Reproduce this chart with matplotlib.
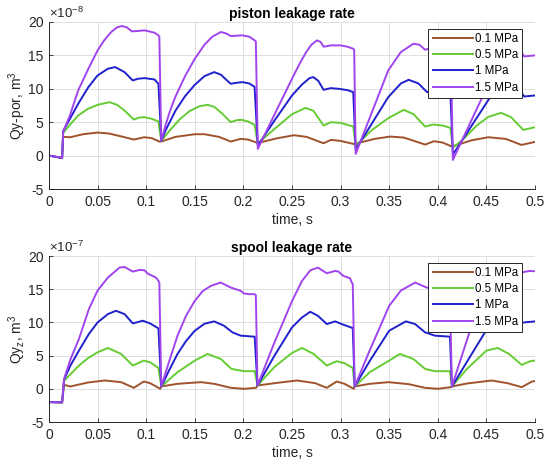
import matplotlib
matplotlib.use("Agg")
import matplotlib.pyplot as plt

plt.rcParams['font.family'] = ['Liberation Sans', 'DejaVu Sans']
plt.rcParams['mathtext.fontset'] = 'custom'
plt.rcParams['mathtext.rm'] = 'Liberation Sans'
plt.rcParams['mathtext.it'] = 'Liberation Sans'
plt.rcParams['axes.unicode_minus'] = False

# ---------------- data ----------------
series_labels = ['0.1 MPa', '0.5 MPa', '1 MPa', '1.5 MPa']
series_colors = ['#A0522D', '#66CC33', '#2020CC', '#A045EE']
x_ticks = [0, 0.05, 0.1, 0.15, 0.2, 0.25, 0.3, 0.35, 0.4, 0.45, 0.5]
x_tick_labels = ['0', '0.05', '0.1', '0.15', '0.2', '0.25', '0.3', '0.35', '0.4', '0.45', '0.5']
y_ticks = [-5, 0, 5, 10, 15, 20]

# piston leakage rate (x 1e-8 m^3)
pis_t_01 = [0, 0.006, 0.0135, 0.0146, 0.022, 0.035, 0.05, 0.062, 0.075, 0.0873, 0.098, 0.106, 0.1135,
            0.1155, 0.13, 0.15, 0.16, 0.175, 0.187, 0.197, 0.205, 0.2125,
            0.2148, 0.235, 0.252, 0.265, 0.2825, 0.29, 0.3, 0.313,
            0.3155, 0.335, 0.351, 0.365, 0.387, 0.396, 0.405, 0.413,
            0.4155, 0.435, 0.452, 0.47, 0.486, 0.5]
pis_y_01 = [0, -0.15, -0.35, 2.8, 2.75, 3.2, 3.45, 3.3, 2.85, 2.4, 2.75, 2.6, 2.1,
            2.1, 2.8, 3.2, 3.2, 2.8, 2.1, 2.5, 2.4, 2.0,
            1.9, 2.6, 3.05, 2.8, 1.85, 2.35, 2.2, 1.75,
            1.8, 2.5, 2.85, 2.7, 1.65, 2.15, 1.95, 1.45,
            1.4, 2.3, 2.75, 2.5, 1.6, 2.05]

pis_t_05 = [0, 0.006, 0.0135, 0.0146, 0.022, 0.030, 0.04, 0.05, 0.0623, 0.07, 0.0777, 0.0873, 0.093, 0.0983, 0.106, 0.1126,
            0.1155, 0.125, 0.135, 0.145, 0.155, 0.163, 0.17, 0.178, 0.187, 0.193, 0.198, 0.205, 0.2115,
            0.2148, 0.232, 0.25, 0.264, 0.272, 0.2825, 0.29, 0.3, 0.313,
            0.3155, 0.332, 0.349, 0.365, 0.375, 0.387, 0.395, 0.405, 0.413,
            0.4155, 0.4247, 0.44, 0.452, 0.465, 0.475, 0.488, 0.5]
pis_y_05 = [0, -0.15, -0.35, 3.4, 4.7, 6.0, 7.0, 7.6, 8.0, 7.6, 6.75, 5.4, 5.7, 5.75, 5.5, 5.1,
            2.2, 3.9, 5.5, 6.7, 7.4, 7.6, 7.3, 6.3, 5.0, 5.3, 5.35, 5.1, 4.6,
            1.8, 4.0, 6.2, 7.15, 6.7, 4.5, 5.0, 4.9, 4.35,
            1.5, 3.8, 5.6, 6.85, 6.2, 4.35, 4.65, 4.5, 4.15,
            1.2, 2.25, 4.5, 5.8, 6.4, 5.8, 3.85, 4.25]

pis_t_10 = [0, 0.006, 0.0135, 0.0146, 0.0215, 0.030, 0.0405, 0.05, 0.0606, 0.0681, 0.0777, 0.0862, 0.0915, 0.0983, 0.1085, 0.1126,
            0.1155, 0.12, 0.13, 0.14, 0.15, 0.16, 0.17, 0.177, 0.182, 0.187, 0.193, 0.199, 0.206, 0.2115,
            0.2148, 0.232, 0.25, 0.26, 0.268, 0.272, 0.277, 0.2825, 0.29, 0.298, 0.307, 0.313,
            0.3155, 0.349, 0.362, 0.370, 0.38, 0.389, 0.397, 0.405, 0.413,
            0.4155, 0.4555, 0.47, 0.48, 0.489, 0.5]
pis_y_10 = [0, -0.15, -0.35, 3.7, 5.5, 7.75, 10.25, 12.0, 13.0, 13.25, 12.5, 11.25, 11.5, 11.6, 11.4, 10.75,
            2.2, 3.8, 6.7, 8.9, 10.6, 11.9, 12.5, 12.1, 11.4, 10.75, 10.9, 11.0, 10.8, 10.3,
            1.5, 5.25, 9.0, 10.6, 11.6, 11.75, 11.2, 9.85, 10.1, 10.0, 9.8, 9.5,
            0.9, 8.75, 10.8, 11.35, 10.8, 9.5, 9.7, 9.6, 9.25,
            0.15, 9.1, 11.2, 10.6, 8.85, 9.0]

pis_t_15 = [0, 0.006, 0.0135, 0.0146, 0.0215, 0.030, 0.0405, 0.05, 0.057, 0.064, 0.07, 0.075, 0.08, 0.0853, 0.091, 0.0983, 0.1085, 0.1126, 0.1135,
            0.1155, 0.12, 0.125, 0.13, 0.14, 0.15, 0.16, 0.168, 0.1767, 0.182, 0.187, 0.193, 0.199, 0.206, 0.2115, 0.2128,
            0.2148, 0.232, 0.25, 0.258, 0.265, 0.27, 0.2757, 0.2795, 0.2825, 0.29, 0.3, 0.307, 0.313, 0.314,
            0.3155, 0.349, 0.362, 0.375, 0.381, 0.387, 0.3945, 0.403, 0.41, 0.4135,
            0.4155, 0.4469, 0.462, 0.475, 0.482, 0.489, 0.5]
pis_y_15 = [0, -0.15, -0.35, 3.6, 6.0, 9.75, 13.0, 15.75, 17.3, 18.5, 19.2, 19.4, 19.2, 18.6, 18.65, 18.75, 18.4, 18.0, 17.8,
            2.2, 4.6, 6.9, 8.8, 11.9, 14.5, 16.6, 17.8, 18.5, 18.3, 17.9, 17.95, 18.0, 17.8, 17.25, 17.1,
            1.0, 6.15, 11.5, 13.8, 15.6, 16.6, 17.25, 17.0, 16.3, 16.5, 16.5, 16.3, 16.0, 15.8,
            0.25, 12.75, 15.5, 16.75, 16.6, 15.85, 16.15, 16.0, 15.6, 15.3,
            -0.65, 9.1, 14.5, 16.5, 16.2, 14.85, 15.0]

# spool leakage rate (x 1e-7 m^3)
spo_t_01 = [0, 0.0135, 0.0155, 0.022, 0.04, 0.0574, 0.0742, 0.0873, 0.0975, 0.104, 0.1145,
            0.1155, 0.1322, 0.1563, 0.17, 0.187, 0.2007, 0.213,
            0.2145, 0.235, 0.2551, 0.2738, 0.2858, 0.296, 0.304, 0.3135,
            0.3145, 0.33, 0.3494, 0.37, 0.3869, 0.4, 0.4135,
            0.4145, 0.43, 0.4554, 0.4716, 0.4863, 0.497, 0.5]
spo_y_01 = [-2.0, -2.05, 0.6, 0.35, 0.95, 1.25, 1.0, 0.15, 1.1, 0.85, 0.0,
            0.35, 0.75, 1.0, 0.75, 0.15, 0.0, 0.15,
            0.5, 0.9, 1.25, 0.85, 0.15, 1.1, 0.75, 0.0,
            0.35, 0.75, 1.0, 0.7, 0.15, 0.0, 0.25,
            0.35, 0.8, 1.25, 0.85, 0.25, 1.1, 1.15]

spo_t_05 = [0, 0.0135, 0.0155, 0.0308, 0.04, 0.05, 0.0606, 0.0742, 0.0862, 0.0975, 0.104, 0.1126,
            0.1155, 0.1322, 0.15, 0.1631, 0.1767, 0.1877, 0.2007, 0.2116,
            0.2145, 0.232, 0.25, 0.2603, 0.2722, 0.2858, 0.296, 0.304, 0.3125,
            0.3145, 0.33, 0.35, 0.361, 0.3747, 0.3869, 0.3971, 0.4125,
            0.4145, 0.43, 0.45, 0.4616, 0.4733, 0.4863, 0.495, 0.5]
spo_y_05 = [-2.0, -2.05, 1.2, 3.5, 4.6, 5.5, 6.15, 5.25, 3.5, 4.25, 4.0, 3.15,
            0.35, 2.5, 4.25, 5.25, 4.5, 3.0, 2.65, 2.65,
            0.5, 3.3, 5.4, 6.15, 5.25, 3.5, 4.15, 3.85, 3.15,
            0.35, 2.5, 4.25, 5.25, 4.5, 3.0, 2.65, 2.65,
            0.35, 3.0, 5.75, 6.15, 5.25, 3.6, 4.15, 4.25]

spo_t_10 = [0, 0.0135, 0.0155, 0.022, 0.0308, 0.041, 0.05, 0.0606, 0.0689, 0.0777, 0.0862, 0.0965, 0.104, 0.1126,
            0.1155, 0.124, 0.1322, 0.141, 0.15, 0.16, 0.1699, 0.18, 0.1887, 0.1973, 0.2116,
            0.2145, 0.232, 0.25, 0.2603, 0.2688, 0.2766, 0.2858, 0.2944, 0.3029, 0.3125,
            0.3145, 0.33, 0.35, 0.3671, 0.3767, 0.3869, 0.3971, 0.4125,
            0.4145, 0.4512, 0.46, 0.4688, 0.4766, 0.4858, 0.4887, 0.5]
spo_y_10 = [-2.0, -2.05, 1.4, 3.5, 5.75, 8.25, 10.0, 11.25, 11.75, 11.25, 9.85, 10.25, 9.85, 9.1,
            0.35, 2.9, 5.25, 7.2, 8.75, 9.8, 10.15, 9.5, 8.5, 8.0, 7.85,
            0.5, 5.0, 9.25, 10.75, 11.6, 11.0, 9.75, 10.15, 9.65, 9.15,
            0.35, 4.2, 8.75, 10.15, 9.75, 8.5, 8.0, 7.85,
            0.35, 9.15, 10.6, 11.6, 11.0, 9.9, 10.0, 10.15]

spo_t_15 = [0, 0.0135, 0.0155, 0.022, 0.0308, 0.041, 0.05, 0.0606, 0.0725, 0.0777, 0.0862, 0.093, 0.0982, 0.1016, 0.110, 0.1126, 0.1135,
            0.1155, 0.124, 0.1322, 0.141, 0.15, 0.158, 0.1665, 0.1767, 0.187, 0.1973, 0.2007, 0.2058, 0.2116, 0.2128,
            0.2145, 0.232, 0.25, 0.2603, 0.2688, 0.2766, 0.2858, 0.2944, 0.2978, 0.3029, 0.3098, 0.3114, 0.3125,
            0.3145, 0.33, 0.35, 0.362, 0.3767, 0.3869, 0.3937, 0.40, 0.407, 0.4125,
            0.4145, 0.434, 0.45, 0.462, 0.4766, 0.4858, 0.4887, 0.4944, 0.5]
spo_y_15 = [-2.0, -2.05, 1.5, 4.4, 7.5, 12.0, 14.8, 16.75, 18.25, 18.35, 17.65, 17.9, 17.85, 17.35, 16.75, 16.25, 16.0,
            0.35, 4.3, 8.0, 11.0, 13.25, 14.7, 15.5, 16.0, 15.25, 14.75, 14.35, 14.25, 14.25, 14.1,
            0.5, 7.0, 13.2, 16.25, 17.85, 18.25, 17.4, 17.75, 17.65, 17.0, 16.65, 16.0, 15.8,
            0.35, 5.8, 12.5, 14.8, 16.0, 15.35, 15.0, 14.7, 14.4, 14.3,
            0.35, 9.15, 14.0, 16.8, 18.25, 17.4, 17.6, 17.75, 17.7]

piston_series = [(pis_t_01, pis_y_01), (pis_t_05, pis_y_05), (pis_t_10, pis_y_10), (pis_t_15, pis_y_15)]
spool_series = [(spo_t_01, spo_y_01), (spo_t_05, spo_y_05), (spo_t_10, spo_y_10), (spo_t_15, spo_y_15)]

# ---------------- figure ----------------
fig = plt.figure(figsize=(5.5, 4.65), dpi=100)
ax1 = fig.add_axes([49/550, 1-189/465, (535-49)/550, (189-22)/465])
ax2 = fig.add_axes([49/550, 1-422/465, (535-49)/550, (422-256)/465])

txt_col = '#262626'
fs = 10
panels = [
    (ax1, piston_series, 'piston leakage rate', r'Qy-por, m$^3$', r'$\times10^{-8}$'),
    (ax2, spool_series, 'spool leakage rate', r'Qy$_z$, m$^3$', r'$\times10^{-7}$'),
]
for ax, series, title, ylab, expo in panels:
    for (t, y), lab, col in zip(series, series_labels, series_colors):
        ax.plot(t, y, color=col, lw=1.4, label=lab)
    ax.set_xlim(0, 0.5)
    ax.set_ylim(-5, 20)
    ax.set_xticks(x_ticks)
    ax.set_xticklabels(x_tick_labels)
    ax.set_yticks(y_ticks)
    ax.grid(True, color='#DFDFDF', lw=0.7)
    ax.set_axisbelow(True)
    for s in ['top', 'right']:
        ax.spines[s].set_visible(False)
    for s in ['left', 'bottom']:
        ax.spines[s].set_color(txt_col)
        ax.spines[s].set_linewidth(0.7)
    ax.tick_params(direction='in', length=3, width=0.6, colors=txt_col, labelsize=fs, pad=4)
    ax.set_title(title, fontsize=fs, fontweight='bold', color='black', pad=3)
    ax.set_xlabel('time, s', fontsize=fs, color=txt_col, labelpad=3)
    ax.set_ylabel(ylab, fontsize=fs, color=txt_col, labelpad=0)
    ax.text(0.0, 1.008, expo, transform=ax.transAxes, fontsize=9.5, color=txt_col,
            ha='left', va='bottom')
    leg = ax.legend(loc='upper right', bbox_to_anchor=(0.973, 0.96), fontsize=8.3,
                    fancybox=False, framealpha=1, edgecolor='#262626', handlelength=3.5,
                    borderpad=0.35, labelspacing=0.38, handletextpad=0.15, borderaxespad=0)
    leg.get_frame().set_linewidth(0.7)

fig.savefig('out.png', dpi=100)
